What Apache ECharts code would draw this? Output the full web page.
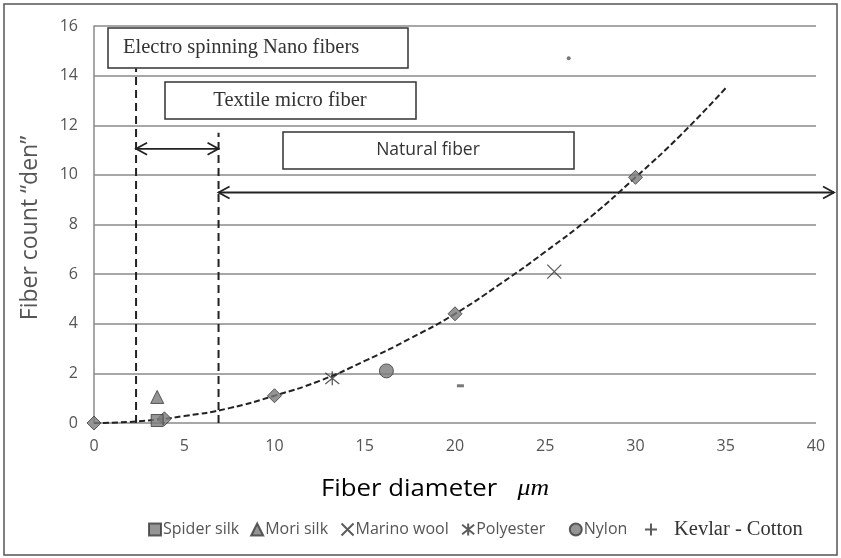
<!DOCTYPE html>
<html><head><meta charset="utf-8">
<script src="https://cdn.jsdelivr.net/npm/echarts@6/dist/echarts.min.js"></script>
<style>html,body{margin:0;padding:0;background:#fff}#c{width:841px;height:558px}</style>
</head><body><div id="c"></div>
<script>
// ---- data ----
const xTickLabels = ['0','5','10','15','20','25','30','35','40'];
const yTickLabels = ['0','2','4','6','8','10','12','14','16'];
const spiderSilk = [[3.5, 0.1]];
const moriSilk = [[3.5, 1.05]];
const marinoWool = [[25.5, 6.1]];
const polyester = [[13.2, 1.8]];
const nylon = [[16.2, 2.1]];
const kevlarCotton = [[26.3, 14.7], [20.3, 1.5]];
const trendMarkers = [[0, 0], [3.9, 0.17], [10, 1.1], [20, 4.4], [30, 9.9]];
const trendX = [0, 2.5, 5, 7.5, 10, 12.5, 15, 17.5, 20, 22.5, 25, 27.5, 30, 32.5, 35];
const trendY = [0, 0.07, 0.28, 0.6, 1.1, 1.7, 2.5, 3.4, 4.4, 5.6, 6.9, 8.3, 9.9, 11.6, 13.5];
const zoneLines = [2.33, 6.9];          // x positions of the dashed dividers
const zoneLineTops = [14.3, 11.7];      // y where they end
const microArrowY = 11.05;
const naturalArrowY = 9.29;
const boxLabels = ['Electro spinning Nano fibers', 'Textile micro fiber', 'Natural fiber'];

const GRAY = '#555';
const chart = echarts.init(document.getElementById('c'));
const markerStyle = {color: '#7a7a7a', borderColor: '#3a3a3a', borderWidth: 1};
const lineSym = {color: 'none', borderColor: '#333', borderWidth: 1.3};
const crossPath = 'path://M0,0L10,10M10,0L0,10';
const starPath = 'path://M0,1L10,9M10,1L0,9M5,0L5,10';
const plusPath = 'path://M5,0L5,10M0,5L10,5';

const NB = '\u00a0';
const legendFmt = n => {
  if (n === 'Kevlar - Cotton') return '{s|' + n + '}';
  if (n === 'Polyester') return n + NB + NB + NB;
  if (n === 'Nylon') return n + NB;
  return n;
};

const option = {
  animation: false,
  backgroundColor: '#fff',
  grid: {left: 94, right: 25, top: 26, bottom: 135},
  xAxis: {
    type: 'value', min: 0, max: 40, interval: 5,
    axisLine: {show: false}, axisTick: {show: false}, splitLine: {show: false},
    axisLabel: {color: GRAY, fontSize: 16, fontFamily: 'Open Sans', margin: 15,
      formatter: v => xTickLabels[Math.round(v / 5)]}
  },
  yAxis: {
    type: 'value', min: 0, max: 16, interval: 2,
    axisLine: {show: true, lineStyle: {color: '#8a8a8a', width: 1.5}},
    axisTick: {show: false},
    splitLine: {lineStyle: {color: '#8a8a8a', width: 1.5}},
    axisLabel: {color: GRAY, fontSize: 16, fontFamily: 'Open Sans', margin: 16,
      formatter: v => yTickLabels[Math.round(v / 2)]}
  },
  legend: {
    left: 143, top: 514, itemGap: 11, itemWidth: 12, itemHeight: 12,
    textStyle: {color: GRAY, fontSize: 16, fontFamily: 'Open Sans', padding: [0, 0, 0, -3],
      rich: {
        s: {fontFamily: 'Liberation Serif', fontSize: 20.5, color: '#333', padding: [0, 0, 0, 15]}
      }},
    formatter: legendFmt,
    data: [
      {name: 'Spider silk', icon: 'rect'},
      {name: 'Mori silk', icon: 'triangle'},
      {name: 'Marino wool', icon: crossPath},
      {name: 'Polyester', icon: starPath},
      {name: 'Nylon', icon: 'circle'},
      {name: 'Kevlar - Cotton', icon: plusPath}
    ]
  },
  series: [
    {name: 'trend', type: 'line', data: trendX.map((x, i) => [x, trendY[i]]), smooth: true,
      symbol: 'none', lineStyle: {color: '#222', width: 2, type: [6, 3]}, z: 2},
    {name: 'trendMarkers', type: 'scatter', data: trendMarkers, symbol: 'diamond', symbolSize: 14,
      itemStyle: markerStyle, z: 3},
    {name: 'Spider silk', type: 'scatter', data: spiderSilk, symbol: 'rect', symbolSize: 12, itemStyle: markerStyle, z: 4},
    {name: 'Mori silk', type: 'scatter', data: moriSilk, symbol: 'triangle', symbolSize: 13, itemStyle: markerStyle, z: 4},
    {name: 'Marino wool', type: 'scatter', data: marinoWool, symbol: crossPath, symbolSize: 14, itemStyle: lineSym, z: 4},
    {name: 'Polyester', type: 'scatter', data: polyester, symbol: starPath, symbolSize: 14, itemStyle: lineSym, z: 4},
    {name: 'Nylon', type: 'scatter', data: nylon, symbol: 'circle', symbolSize: 14, itemStyle: markerStyle, z: 4},
    {name: 'Kevlar - Cotton', type: 'scatter', symbol: plusPath, symbolSize: 12, itemStyle: lineSym, z: 4,
      data: [
        {value: kevlarCotton[0], symbol: 'circle', symbolSize: 4, itemStyle: {color: '#555', borderWidth: 0}},
        {value: kevlarCotton[1], symbol: 'rect', symbolSize: [7, 3], itemStyle: {color: '#555', borderWidth: 0}}
      ]}
  ]
};
chart.setOption(option);

const px = (x, y) => chart.convertToPixel({gridIndex: 0}, [x, y]);
const g = [];
const DARK = '#222';
// outer frame
g.push({type: 'rect', shape: {x: 4, y: 4, width: 833, height: 551}, style: {fill: 'none', stroke: '#555', lineWidth: 1.5}, z: 0});
// dashed dividers
zoneLines.forEach((xv, i) => {
  const a = px(xv, 0), b = px(xv, zoneLineTops[i]);
  g.push({type: 'line', shape: {x1: a[0], y1: a[1], x2: b[0], y2: b[1]}, style: {stroke: DARK, lineWidth: 2, lineDash: [8, 5]}, z: 5});
});
function arrowHead(x, y, dir) {
  return {type: 'polyline', shape: {points: [[x - dir * 11, y - 6], [x, y], [x - dir * 11, y + 6]]}, style: {stroke: DARK, lineWidth: 1.8, fill: 'none'}, z: 6};
}
// micro fiber double arrow
{
  const a = px(zoneLines[0], microArrowY), b = px(zoneLines[1], microArrowY);
  g.push({type: 'line', shape: {x1: a[0], y1: a[1], x2: b[0], y2: b[1]}, style: {stroke: DARK, lineWidth: 1.8}, z: 6});
  g.push(arrowHead(a[0], a[1], -1), arrowHead(b[0], b[1], 1));
}
// natural fiber arrow
{
  const a = px(zoneLines[1], naturalArrowY);
  const xEnd = 834;
  g.push({type: 'line', shape: {x1: a[0], y1: a[1], x2: xEnd, y2: a[1]}, style: {stroke: DARK, lineWidth: 1.8}, z: 6});
  g.push(arrowHead(a[0], a[1], -1), arrowHead(xEnd, a[1], 1));
}
// label boxes (annotation positions)
const boxes = [
  {x: 108, y: 28, w: 300, h: 40, tx: 123, align: 'left', font: 'Liberation Serif', size: 20.5},
  {x: 165, y: 82, w: 251, h: 37, tx: 290, align: 'center', font: 'Liberation Serif', size: 20.5},
  {x: 283, y: 132, w: 291, h: 37, tx: 428, align: 'center', font: 'Open Sans', size: 17.5}
];
boxes.forEach((b, i) => {
  g.push({type: 'rect', shape: {x: b.x, y: b.y, width: b.w, height: b.h}, style: {fill: '#fff', stroke: '#333', lineWidth: 1.5}, z: 10});
  g.push({type: 'text', x: b.tx, y: b.y + b.h / 2, style: {text: boxLabels[i], font: b.size + 'px "' + b.font + '"', fill: '#333', align: b.align, verticalAlign: 'middle'}, z: 11});
});
// axis titles
g.push({type: 'text', x: 30, y: 228, rotation: Math.PI / 2,
  style: {text: 'Fiber count “den”', font: '23px "Open Sans"', fill: GRAY, align: 'center', verticalAlign: 'middle'}, z: 11});
g.push({type: 'text', x: 435, y: 489, scaleX: 1.12,
  style: {text: '{a|Fiber diameter}{b|μm}', align: 'center', verticalAlign: 'middle',
    rich: {a: {fontFamily: 'Open Sans', fontSize: 23, color: GRAY}, b: {fontFamily: 'Liberation Serif', fontStyle: 'italic', fontSize: 23, color: GRAY, padding: [0, 0, 0, 18]}}}, z: 11});
chart.setOption({graphic: {elements: g}});
</script></body></html>
